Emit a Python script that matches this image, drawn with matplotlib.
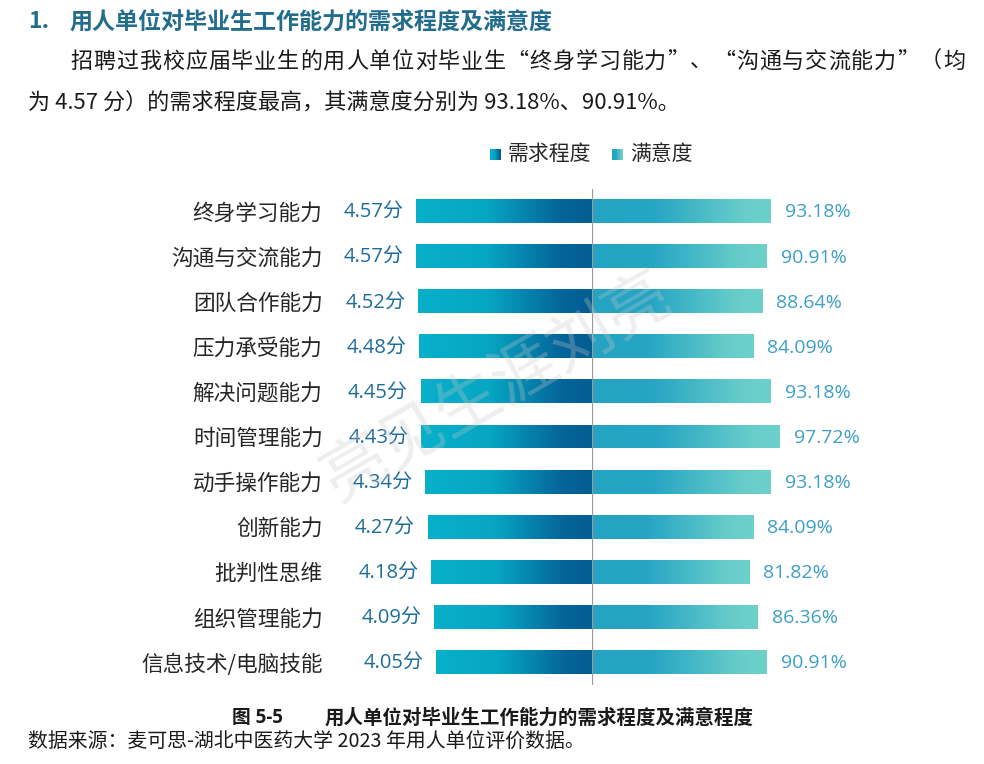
import matplotlib
matplotlib.use("Agg")
import matplotlib.pyplot as plt
import numpy as np
from matplotlib.colors import LinearSegmentedColormap

plt.rcParams['font.family'] = ['Noto Sans CJK SC', 'DejaVu Sans']

categories = ["终身学习能力", "沟通与交流能力", "团队合作能力", "压力承受能力", "解决问题能力",
              "时间管理能力", "动手操作能力", "创新能力", "批判性思维", "组织管理能力", "信息技术/电脑技能"]
demand = [4.57, 4.57, 4.52, 4.48, 4.45, 4.43, 4.34, 4.27, 4.18, 4.09, 4.05]
satisfaction = [93.18, 90.91, 88.64, 84.09, 93.18, 97.72, 93.18, 84.09, 81.82, 86.36, 90.91]
legend_labels = ["需求程度", "满意度"]

title = "用人单位对毕业生工作能力的需求程度及满意度"
para1 = "招聘过我校应届毕业生的用人单位对毕业生“终身学习能力”、“沟通与交流能力”（均"
para2 = "为 4.57 分）的需求程度最高，其满意度分别为 93.18%、90.91%。"
caption_no = "图 5-5"
caption = "用人单位对毕业生工作能力的需求程度及满意程度"
source = "数据来源：麦可思-湖北中医药大学 2023 年用人单位评价数据。"
watermark = "亮见生涯刘亮"

W, H = 984, 764
fig = plt.figure(figsize=(W / 100, H / 100), dpi=100)
fig.patch.set_facecolor('white')

def fx(px):
    return px / W

def fy(py):
    return 1 - py / H

cmap_left = LinearSegmentedColormap.from_list(
    "l", [(0.0, "#035d91"), (0.18, "#04659a"), (0.6, "#07a6c3"), (1.0, "#08b0ca")])
cmap_right = LinearSegmentedColormap.from_list(
    "r", [(0.0, "#24a3c2"), (0.35, "#27a6c4"), (0.85, "#68cdca"), (1.0, "#6dd0cb")])

n = len(categories)
top_px, bot_px = 188.5, 684.5
ax_bottom = fy(bot_px)
ax_h = (bot_px - top_px) / H

ax_l = fig.add_axes([fx(392), ax_bottom, fx(200), ax_h])
ax_r = fig.add_axes([fx(592), ax_bottom, fx(200), ax_h])

bh = 0.53
grad = np.linspace(0, 1, 256).reshape(1, -1)
ys = np.arange(n)

bars_l = ax_l.barh(ys, demand, height=bh, color="#05809f", zorder=1)
for y, v, b in zip(ys, demand, bars_l):
    im = ax_l.imshow(grad, cmap=cmap_left, extent=(0, v, y + bh / 2, y - bh / 2),
                     aspect='auto', zorder=2, interpolation='bicubic')
    im.set_clip_path(b)
    ax_l.annotate(f"{v:.2f}分", xy=(v, y), xytext=(-9, -1.5), textcoords='offset points',
                  ha='right', va='center', fontsize=14.5, color="#1d6d9c",
                  family=['Open Sans', 'Noto Sans CJK SC'])

bars_r = ax_r.barh(ys, satisfaction, height=bh, color="#40b8c6", zorder=1)
for y, v, b in zip(ys, satisfaction, bars_r):
    im = ax_r.imshow(grad, cmap=cmap_right, extent=(0, v, y + bh / 2, y - bh / 2),
                     aspect='auto', zorder=2, interpolation='bicubic')
    im.set_clip_path(b)
    ax_r.annotate(f"{v:.2f}%", xy=(v, y), xytext=(10, -1), textcoords='offset points',
                  ha='left', va='center', fontsize=14, color="#3c9fc6",
                  family=['Open Sans', 'Noto Sans CJK SC'])

ax_l.set_xlim(4.57 * 200 / 176, 0)
ax_r.set_xlim(0, 93.18 * 200 / 179)
for ax in (ax_l, ax_r):
    ax.set_ylim(n - 0.5, -0.5)
    for s in ax.spines.values():
        s.set_visible(False)
    ax.set_xticks([])
    ax.patch.set_alpha(0)

ax_l.set_yticks(ys)
ax_l.set_yticklabels(categories, fontsize=15.6, color="#262626")
ax_l.tick_params(axis='y', length=0, pad=50)
ax_r.set_yticks([])
ax_r.axvline(0, color="#9b9b9b", lw=1.6, zorder=5)

# legend
for i, (lab, cm, x0) in enumerate(zip(legend_labels, [cmap_left, cmap_right], [490, 612])):
    lax = fig.add_axes([fx(x0), fy(160), fx(11), 11 / H])
    g = grad if i == 1 else grad[:, ::-1]
    lax.imshow(g, cmap=cm, aspect='auto', extent=(0, 1, 0, 1))
    lax.set_axis_off()
    fig.text(fx(x0 + 18), fy(154), lab, fontsize=15, color="#262626", va='center', ha='left')

# heading and paragraph
fig.text(fx(28), fy(22), "1.", fontsize=16.6, fontweight='bold', color="#226d8e",
         va='center', ha='left')
fig.text(fx(70), fy(22), title, fontsize=16.6, fontweight='bold', color="#226d8e",
         va='center', ha='left')

# justified first paragraph line (from x=70 to x=965)
renderer = fig.canvas.get_renderer()
psize = 15.9
widths = []
for ch in para1:
    t = fig.text(0, 0, ch, fontsize=psize)
    widths.append(t.get_window_extent(renderer).width)
    t.remove()
extra = (965 - 70 - sum(widths)) / (len(para1) - 1)
xpos = 70.0
for ch, w in zip(para1, widths):
    fig.text(fx(xpos), fy(62), ch, fontsize=psize, color="#1a1a1a", va='center', ha='left')
    xpos += w + extra
fig.text(fx(28), fy(104), para2, fontsize=psize, color="#1a1a1a", va='center', ha='left')

# caption and source
fig.text(fx(232), fy(718), caption_no, fontsize=13.5, fontweight='bold', color="#1a1a1a",
         va='center', ha='left', family=['Open Sans', 'Noto Sans CJK SC'])
fig.text(fx(325), fy(718), caption, fontsize=14, fontweight='bold', color="#1a1a1a",
         va='center', ha='left')
fig.text(fx(28), fy(742), source, fontsize=14.3, color="#1a1a1a", va='center', ha='left')

# watermark
fig.text(fx(497), fy(388), watermark, fontsize=47, color="#c8c8c8", alpha=0.3,
         rotation=30, ha='center', va='center', zorder=10)

fig.savefig("out.png", dpi=100)
